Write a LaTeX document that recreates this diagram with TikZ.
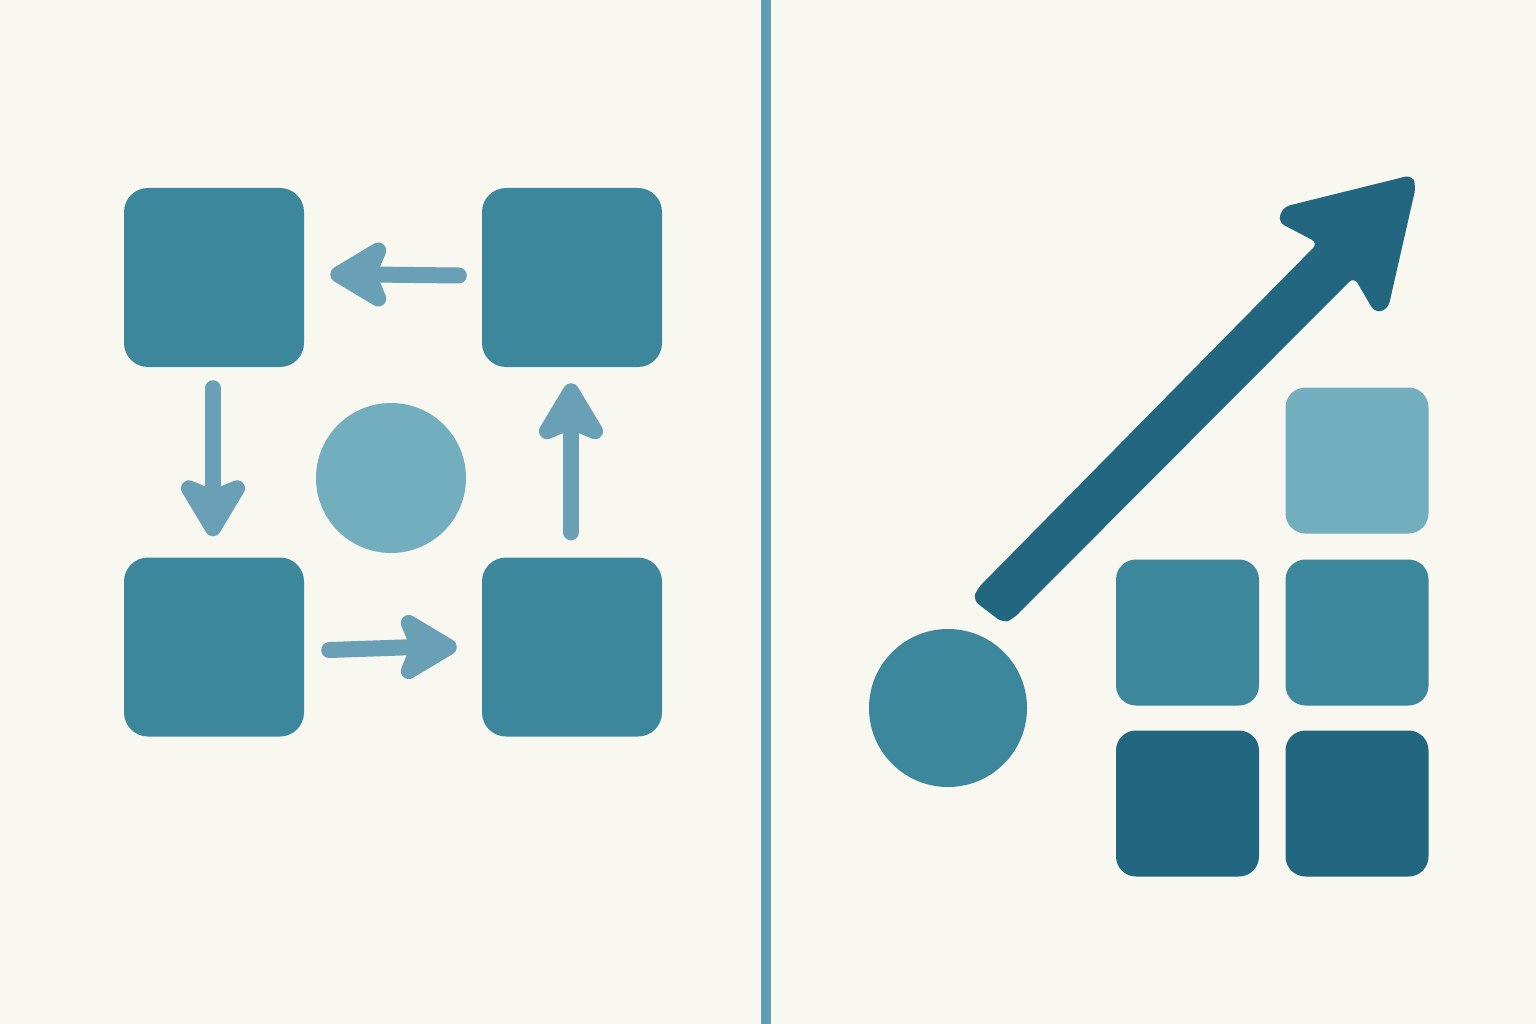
\documentclass[tikz,border=0pt]{standalone}
\definecolor{bgc}{HTML}{F8F8F0}
\definecolor{midc}{HTML}{3D879D}
\definecolor{darkc}{HTML}{22667F}
\definecolor{lightc}{HTML}{72AEBE}
\definecolor{arrc}{HTML}{6AA0B5}
\definecolor{vlinec}{HTML}{5E9DB2}
\begin{document}
\begin{tikzpicture}[x=1pt,y=-1pt,
  bigbox/.style={rectangle, rounded corners=24pt, minimum width=180pt, minimum height=179pt, inner sep=0pt, fill=midc},
  smallbox/.style={rectangle, rounded corners=20pt, minimum width=143pt, minimum height=146pt, inner sep=0pt},
  disc/.style={circle, inner sep=0pt},
  shaft/.style={draw=arrc, line width=16pt, line cap=round},
  ahead/.pic={\filldraw[arrc, line width=16pt, line join=round]
     (-8,0) -- (-48,-24) -- (-38,0) -- (-48,24) -- cycle;},
  divider/.style={draw=vlinec, line width=10pt}]
\fill[bgc] (0,0) rectangle (1536,1024);
\useasboundingbox (0,0) rectangle (1536,1024);

% divider
\draw[divider] (766,0) -- (766,1024);

% left cycle
\node[bigbox] (TL) at (214,277.5) {};
\node[bigbox] (TR) at (572,277.5) {};
\node[bigbox] (BL) at (214,647) {};
\node[bigbox] (BR) at (572,647) {};
\node[disc, fill=lightc, minimum size=150pt] (C) at (391,478) {};

\path ([shift={(26,-3)}]TL.east) coordinate (t1) pic[rotate=180] {ahead};
\draw[shaft] ([shift={(-23,-2)}]TR.west) -- ([shift={(40,0)}]t1);
\path ([shift={(-1,-21)}]BL.north) coordinate (t2) pic[rotate=-90] {ahead};
\draw[shaft] ([shift={(-1,21)}]TL.south) -- ([shift={(0,-40)}]t2);
\path ([shift={(-25,0)}]BR.west) coordinate (t3) pic {ahead};
\draw[shaft] ([shift={(25,3)}]BL.east) -- ([shift={(-40,0)}]t3);
\path ([shift={(-1,16)}]TR.south) coordinate (t4) pic[rotate=90] {ahead};
\draw[shaft] ([shift={(-1,-25)}]BR.north) -- ([shift={(0,40)}]t4);

% right side
\node[disc, fill=midc, minimum size=158pt] (D) at (948,708) {};
\node[smallbox, fill=lightc] (S1) at (1357,460.5) {};
\node[smallbox, fill=midc] (S2) at (1187.5,632.5) {};
\node[smallbox, fill=midc] (S3) at (1357,632.5) {};
\node[smallbox, fill=darkc] (S4) at (1187.5,803.5) {};
\node[smallbox, fill=darkc] (S5) at (1357,803.5) {};

% big rising arrow
\fill[darkc, rounded corners=7pt] (977,589) -- (1318,243) -- (1278,222) -- (1283,207)
  -- (1412,175) -- (1416,186) -- (1388,309) -- (1375,313) -- (1354,277) -- (1013,619)
  -- (1003,623) -- (973,600) -- cycle;
\end{tikzpicture}
\end{document}
